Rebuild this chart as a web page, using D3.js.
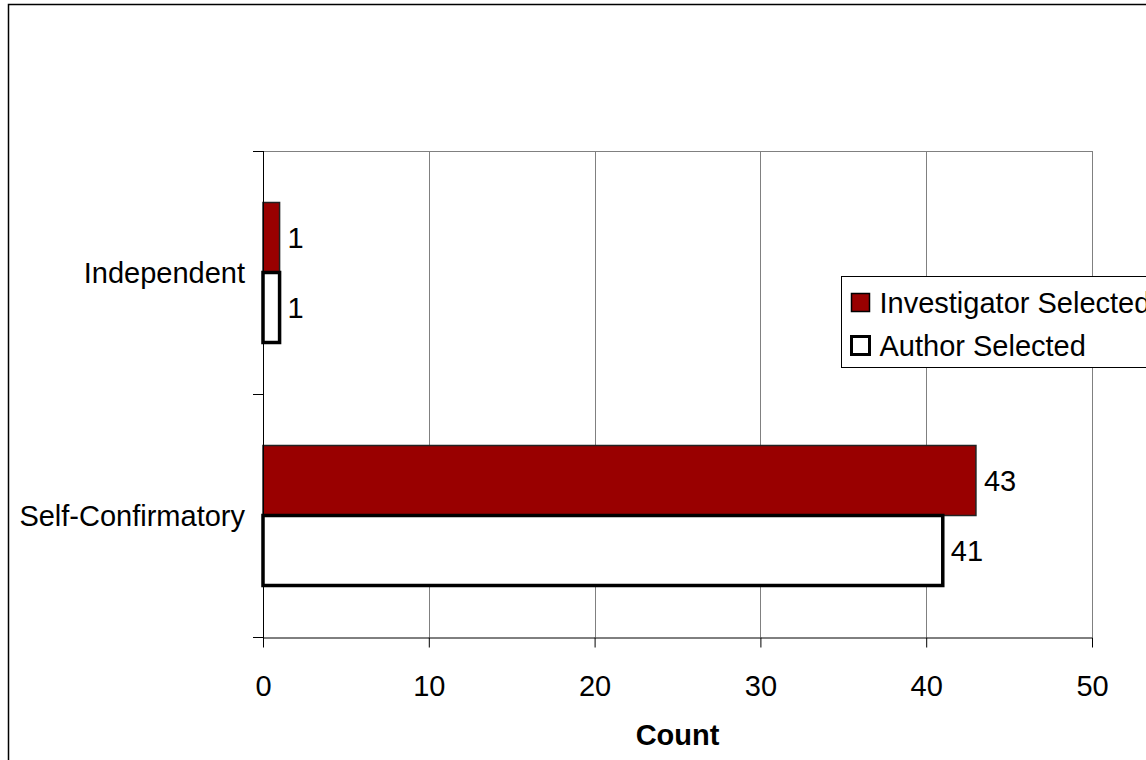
<!DOCTYPE html>
<html>
<head>
<meta charset="utf-8">
<script src="https://cdn.jsdelivr.net/npm/d3@7"></script>
<style>
  body { margin: 0; background: #fff; }
  svg { display: block; font-family: Arial, "Liberation Sans", sans-serif; }
</style>
</head>
<body>
<svg width="1146" height="760"></svg>
<script>
(function () {

  // data
  const categories = ["Independent", "Self-Confirmatory"];
  const seriesNames = ["Investigator Selected", "Author Selected"];
  const investigatorValues = [1, 43];
  const authorValues = [1, 41];
  const xTicks = [0, 10, 20, 30, 40, 50];

  const fontSize = 29;
  const plot = { left: 263, right: 1092, top: 151, bottom: 637 };

  const svg = d3.select("svg");

  // outer frame, runs off the right and bottom edge
  svg.append("rect")
    .attr("x", 8.5).attr("y", 4.5)
    .attr("width", 1200).attr("height", 800)
    .attr("fill", "#fff")
    .attr("stroke", "#000")
    .attr("stroke-width", 1.5);

  const x = d3.scaleLinear()
    .domain([0, 50])
    .range([plot.left, plot.right]);

  const y = d3.scaleBand()
    .domain(categories)
    .range([plot.top, plot.bottom])
    .padding(0);

  const inner = d3.scaleBand()
    .domain(seriesNames)
    .range([0, y.bandwidth()])
    .paddingInner(0)
    .paddingOuter(0.7357);

  const rows = categories.map((c, i) => ({
    cat: c,
    values: [
      { name: seriesNames[0], value: investigatorValues[i] },
      { name: seriesNames[1], value: authorValues[i] }
    ]
  }));

  // gridlines
  svg.append("g")
    .selectAll("line")
    .data(xTicks.slice(1))
    .enter().append("line")
    .attr("x1", d => Math.round(x(d)) + 0.5)
    .attr("x2", d => Math.round(x(d)) + 0.5)
    .attr("y1", plot.top)
    .attr("y2", plot.bottom)
    .attr("stroke", "#808080")
    .attr("stroke-width", 1);

  // top border of plot area
  svg.append("line")
    .attr("x1", plot.left).attr("x2", plot.right + 0.5)
    .attr("y1", plot.top + 0.5).attr("y2", plot.top + 0.5)
    .attr("stroke", "#808080");

  // bars
  const groups = svg.append("g")
    .selectAll("g")
    .data(rows)
    .enter().append("g")
    .attr("transform", d => `translate(0,${y(d.cat)})`);

  groups.selectAll("rect")
    .data(d => d.values)
    .enter().append("rect")
    .attr("x", x(0))
    .attr("y", d => inner(d.name))
    .attr("width", d => x(d.value) - x(0))
    .attr("height", inner.bandwidth())
    .attr("fill", d => d.name === seriesNames[0] ? "#990000" : "#fff")
    .attr("stroke", d => d.name === seriesNames[0] ? "#222" : "#000")
    .attr("stroke-width", d => d.name === seriesNames[0] ? 1.5 : 3.5);

  groups.selectAll("text")
    .data(d => d.values)
    .enter().append("text")
    .attr("x", d => x(d.value) + 8)
    .attr("y", d => inner(d.name) + inner.bandwidth() / 2)
    .attr("dy", "0.35em")
    .attr("font-size", fontSize)
    .text(d => d.value);

  // left axis
  svg.append("line")
    .attr("x1", plot.left + 0.5).attr("x2", plot.left + 0.5)
    .attr("y1", plot.top).attr("y2", plot.bottom + 10)
    .attr("stroke", "#000");

  const yTicks = [plot.top, y(categories[1]), plot.bottom];
  svg.append("g")
    .selectAll("line")
    .data(yTicks)
    .enter().append("line")
    .attr("x1", plot.left - 10).attr("x2", plot.left)
    .attr("y1", d => Math.round(d) + 0.5)
    .attr("y2", d => Math.round(d) + 0.5)
    .attr("stroke", "#000");

  svg.append("g")
    .selectAll("text")
    .data(categories)
    .enter().append("text")
    .attr("x", 245)
    .attr("y", d => y(d) + y.bandwidth() / 2)
    .attr("dy", "0.35em")
    .attr("text-anchor", "end")
    .attr("font-size", fontSize)
    .text(d => d);

  // bottom axis
  const xAxis = d3.axisBottom(x)
    .tickValues(xTicks)
    .tickSize(10)
    .tickPadding(28)
    .tickSizeOuter(0);

  const gx = svg.append("g")
    .attr("transform", `translate(0,${plot.bottom + 0.5})`)
    .call(xAxis);

  gx.select(".domain").attr("stroke", "#000");
  gx.selectAll(".tick line").attr("stroke", "#000");
  gx.selectAll(".tick text")
    .attr("font-size", fontSize)
    .attr("font-family", "Arial, 'Liberation Sans', sans-serif")
    .attr("fill", "#000");

  svg.append("text")
    .attr("x", (plot.left + plot.right) / 2)
    .attr("y", 745)
    .attr("text-anchor", "middle")
    .attr("font-size", fontSize)
    .attr("font-weight", "bold")
    .text("Count");

  // legend, cut by the right edge
  const legend = svg.append("g").attr("transform", "translate(841.5,276.5)");
  legend.append("rect")
    .attr("width", 340).attr("height", 91)
    .attr("fill", "#fff")
    .attr("stroke", "#000");

  const items = legend.selectAll("g")
    .data(seriesNames)
    .enter().append("g")
    .attr("transform", (d, i) => `translate(10,${26 + i * 43})`);

  items.append("rect")
    .attr("x", 0).attr("y", -9)
    .attr("width", 18).attr("height", 18)
    .attr("fill", (d, i) => i === 0 ? "#990000" : "#fff")
    .attr("stroke", "#000")
    .attr("stroke-width", (d, i) => i === 0 ? 1.5 : 3);

  items.append("text")
    .attr("x", 28)
    .attr("dy", "0.35em")
    .attr("font-size", fontSize)
    .text(d => d);

}());
</script>
</body>
</html>
